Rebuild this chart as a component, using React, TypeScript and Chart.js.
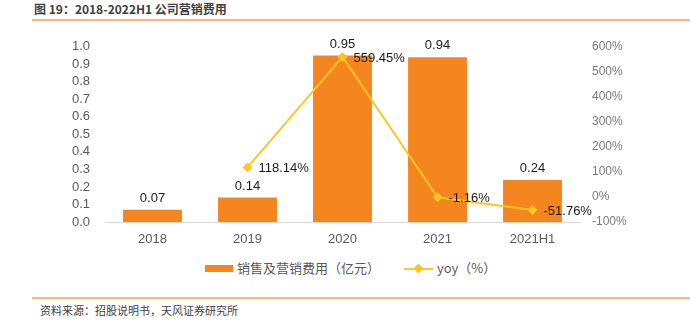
import React, { useEffect, useRef } from "react";
import { Chart, registerables } from "chart.js";

Chart.register(...registerables);

const categories = ["2018", "2019", "2020", "2021", "2021H1"];
const expenseValues = [0.07, 0.14, 0.95, 0.94, 0.24];
const yoyValues: (number | null)[] = [null, 118.14, 559.45, -1.16, -51.76];
const expenseLabels = ["0.07", "0.14", "0.95", "0.94", "0.24"];
const yoyLabels = ["", "118.14%", "559.45%", "-1.16%", "-51.76%"];

const BAR_COLOR = "#F5861F";
const LINE_COLOR = "#FFC425";
const FONT = "'Liberation Sans', Arial, 'Noto Sans CJK SC', sans-serif";
const CJK = "'Noto Sans CJK SC', 'Liberation Sans', sans-serif";

const labelPlugin = {
  id: "valueLabels",
  afterDatasetsDraw(chart: any) {
    const ctx = chart.ctx;
    ctx.save();
    ctx.font = `13px ${FONT}`;
    ctx.fillStyle = "#1a1a1a";
    const barMeta = chart.getDatasetMeta(0);
    barMeta.data.forEach((el: any, i: number) => {
      ctx.textAlign = "center";
      ctx.textBaseline = "bottom";
      ctx.fillText(expenseLabels[i], el.x, el.y - 5);
    });
    const lineMeta = chart.getDatasetMeta(1);
    lineMeta.data.forEach((el: any, i: number) => {
      if (yoyValues[i] === null) return;
      ctx.textAlign = "left";
      ctx.textBaseline = "middle";
      ctx.fillText(yoyLabels[i], el.x + 11, el.y + 1);
    });
    ctx.restore();
  },
};

export default function App() {
  const ref = useRef<HTMLCanvasElement>(null);
  useEffect(() => {
    if (!ref.current) return;
    const chart = new Chart(ref.current, {
      type: "bar",
      data: {
        labels: categories,
        datasets: [
          {
            type: "bar",
            label: "销售及营销费用（亿元）",
            data: expenseValues,
            backgroundColor: BAR_COLOR,
            categoryPercentage: 0.62,
            barPercentage: 1,
            yAxisID: "y",
            order: 1,
          } as any,
          {
            type: "line",
            label: "yoy（%）",
            data: yoyValues,
            borderColor: LINE_COLOR,
            backgroundColor: LINE_COLOR,
            borderWidth: 2,
            pointStyle: "rectRot",
            pointRadius: 4.5,
            pointBorderWidth: 1,
            spanGaps: false,
            yAxisID: "y1",
            order: 0,
          } as any,
        ],
      },
      options: {
        animation: false,
        responsive: false,
        maintainAspectRatio: false,
        layout: { padding: { top: 22, bottom: 0, left: 0, right: 0 } },
        plugins: {
          legend: { display: false },
          tooltip: { enabled: false },
        },
        scales: {
          x: {
            grid: { display: false, drawTicks: false },
            border: { display: true, color: "#D9D9D9", width: 1 },
            ticks: { color: "#595959", font: { size: 13, family: FONT }, padding: 10 },
            afterFit(scale: any) {
              scale.height = 32;
            },
          },
          y: {
            position: "left",
            min: 0,
            max: 1.0,
            grid: { display: false, drawTicks: false },
            border: { display: false },
            ticks: {
              stepSize: 0.1,
              autoSkip: false,
              color: "#595959",
              font: { size: 13, family: FONT },
              padding: 15,
              callback: (v: any) => Number(v).toFixed(1),
            },
            afterFit(scale: any) {
              scale.width = 105;
            },
          },
          y1: {
            position: "right",
            min: -100,
            max: 600,
            grid: { display: false, drawTicks: false },
            border: { display: false },
            ticks: {
              stepSize: 100,
              autoSkip: false,
              color: "#7a7a7a",
              font: { size: 12, family: FONT },
              padding: 12,
              callback: (v: any) => `${v}%`,
            },
            afterFit(scale: any) {
              scale.width = 110;
            },
          },
        },
      },
      plugins: [labelPlugin],
    } as any);
    return () => chart.destroy();
  }, []);

  return (
    <div
      style={{
        position: "absolute",
        left: 0,
        top: 0,
        width: 690,
        height: 324,
        background: "#fff",
        overflow: "hidden",
      }}
    >
      <div
        style={{
          position: "absolute",
          left: 34,
          top: 0,
          fontFamily: CJK,
          fontWeight: 700,
          fontSize: 12,
          color: "#404040",
          lineHeight: "17px",
          whiteSpace: "nowrap",
        }}
      >
        图 19：2018-2022H1 公司营销费用
      </div>
      <div
        style={{
          position: "absolute",
          left: 32,
          top: 19,
          width: 658,
          height: 2,
          background: "#F8B87E",
        }}
      />
      <canvas
        ref={ref}
        width={690}
        height={230}
        style={{ position: "absolute", left: 0, top: 24, width: 690, height: 230 }}
      />
      <div
        style={{
          position: "absolute",
          left: 0,
          top: 260,
          width: 690,
          height: 16,
          fontFamily: CJK,
          fontSize: 13,
          color: "#595959",
        }}
      >
        <div
          style={{
            position: "absolute",
            left: 205,
            top: 5,
            width: 28,
            height: 7,
            background: BAR_COLOR,
          }}
        />
        <div style={{ position: "absolute", left: 237, top: -1, lineHeight: "18px", whiteSpace: "nowrap" }}>
          销售及营销费用（亿元）
        </div>
        <div
          style={{
            position: "absolute",
            left: 404,
            top: 8,
            width: 29,
            height: 2,
            background: LINE_COLOR,
          }}
        />
        <div
          style={{
            position: "absolute",
            left: 415,
            top: 5,
            width: 7,
            height: 7,
            background: LINE_COLOR,
            transform: "rotate(45deg)",
          }}
        />
        <div style={{ position: "absolute", left: 437, top: -1, lineHeight: "18px", whiteSpace: "nowrap" }}>
          yoy（%）
        </div>
      </div>
      <div
        style={{
          position: "absolute",
          left: 32,
          top: 297,
          width: 658,
          height: 2,
          background: "#F8B87E",
        }}
      />
      <div
        style={{
          position: "absolute",
          left: 40,
          top: 302,
          fontFamily: CJK,
          fontSize: 11,
          color: "#404040",
          lineHeight: "16px",
          whiteSpace: "nowrap",
        }}
      >
        资料来源：招股说明书，天风证券研究所
      </div>
    </div>
  );
}
